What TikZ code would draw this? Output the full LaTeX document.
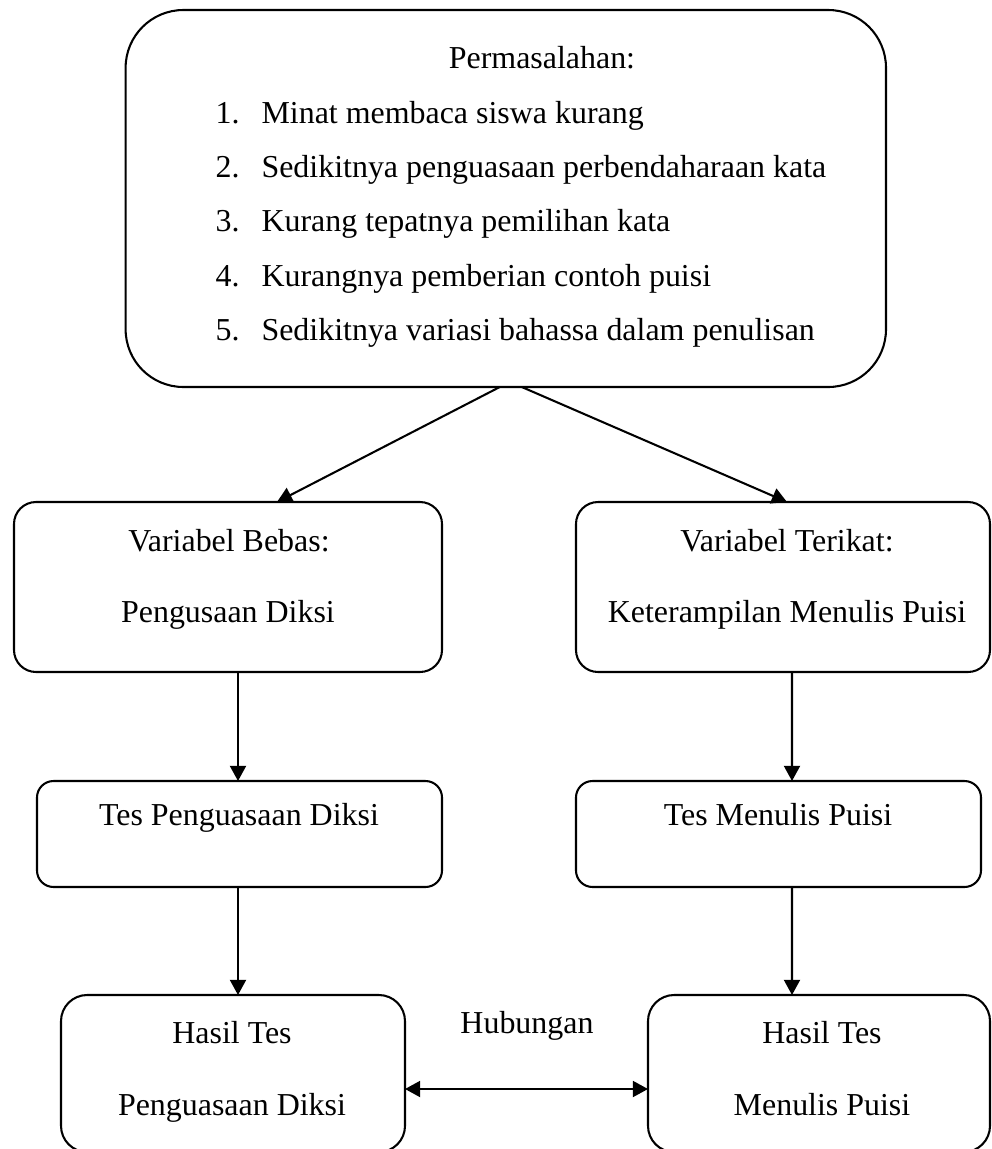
\documentclass[tikz,border=0pt]{standalone}
\usepackage{fontspec}
\setmainfont{Liberation Serif}
\usetikzlibrary{arrows.meta,calc}
\begin{document}
\begin{tikzpicture}[x=0.3633pt,y=-0.3633pt,
  box/.style={draw,line width=0.75pt,inner sep=0pt,outer sep=0pt},
  txt/.style={anchor=base,inner sep=0pt,font=\fontsize{11.6}{14}\selectfont},
  lft/.style={anchor=base west,inner sep=0pt,font=\fontsize{11.6}{14}\selectfont},
  arr/.style={line width=0.75pt,-{Triangle[length=5.5pt,width=5.8pt]}},
  darr/.style={line width=0.75pt,{Triangle[length=5.5pt,width=5.8pt]}-{Triangle[length=5.5pt,width=5.8pt]}}]
\useasboundingbox (0,0) rectangle (992,1149);
% boxes
\node[box,rounded corners=21pt,minimum width=760.4*0.3633pt,minimum height=377*0.3633pt] (top) at (505.8,198.5) {};
\node[box,rounded corners=8pt,minimum width=428*0.3633pt,minimum height=170*0.3633pt] (lv) at (228,587) {};
\node[box,rounded corners=8pt,minimum width=414*0.3633pt,minimum height=170*0.3633pt] (rv) at (783,587) {};
\node[box,rounded corners=6pt,minimum width=405*0.3633pt,minimum height=106*0.3633pt] (lt) at (239.5,834) {};
\node[box,rounded corners=6pt,minimum width=405*0.3633pt,minimum height=106*0.3633pt] (rt) at (778.5,834) {};
\node[box,rounded corners=9.5pt,minimum width=344*0.3633pt,minimum height=157*0.3633pt] (lh) at (233,1073.5) {};
\node[box,rounded corners=9.5pt,minimum width=342*0.3633pt,minimum height=157*0.3633pt] (rh) at (819,1073.5) {};
% top text
\node[txt] (p0) at (542,68) {Permasalahan:};
\node[lft] (n1) at (215,123) {1.};
\node[lft] (n2) at (215,177) {2.};
\node[lft] (n3) at (215,231.5) {3.};
\node[lft] (n4) at (215,286) {4.};
\node[lft] (n5) at (215,340) {5.};
\node[lft] (t1) at (261,123) {Minat membaca siswa kurang};
\node[lft] (t2) at (261,177) {Sedikitnya penguasaan perbendaharaan kata};
\node[lft] (t3) at (261,231.5) {Kurang tepatnya pemilihan kata};
\node[lft] (t4) at (261,286) {Kurangnya pemberian contoh puisi};
\node[lft] (t5) at (261,340) {Sedikitnya variasi bahassa dalam penulisan};
% other text
\node[txt] (lv1) at (229,551) {Variabel Bebas:};
\node[txt] (lv2) at (228,622) {Pengusaan Diksi};
\node[txt] (rv1) at (787,551) {Variabel Terikat:};
\node[txt] (rv2) at (787,622) {Keterampilan Menulis Puisi};
\node[txt] (lt1) at (239,825) {Tes Penguasaan Diksi};
\node[txt] (rt1) at (778,825) {Tes Menulis Puisi};
\node[txt] (lh1) at (232,1043) {Hasil Tes};
\node[txt] (lh2) at (232,1115) {Penguasaan Diksi};
\node[txt] (rh1) at (822,1043) {Hasil Tes};
\node[txt] (rh2) at (822,1115) {Menulis Puisi};
\node[txt] (hub) at (527,1033) {Hubungan};
% connectors
\draw[arr] ($(top.south)+(-6,0)$) -- ($(lv.north)+(49,0)$);
\draw[arr] ($(top.south)+(16,0)$) -- ($(rv.north)+(4,0)$);
\draw[arr] ($(lv.south)+(10,0)$) -- ($(lt.north)+(-1.5,0)$);
\draw[arr] ($(rv.south)+(9,0)$) -- ($(rt.north)+(13.5,0)$);
\draw[arr] ($(lt.south)+(-1.5,0)$) -- ($(lh.north)+(5,0)$);
\draw[arr] ($(rt.south)+(13.5,0)$) -- ($(rh.north)+(-27,0)$);
\draw[darr] ($(lh.east)+(0,15.5)$) -- ($(rh.west)+(0,15.5)$);
\end{tikzpicture}
\end{document}
